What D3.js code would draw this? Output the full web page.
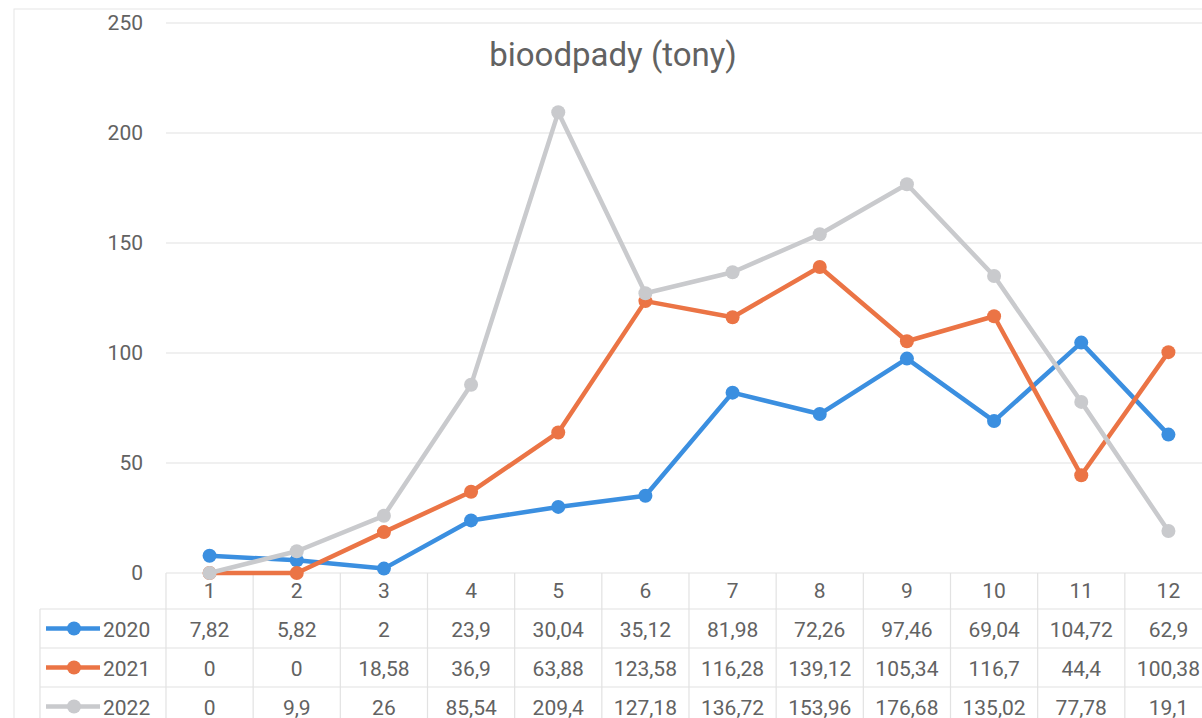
<!DOCTYPE html>
<meta charset="utf-8">
<style>
body { margin: 0; background: #fff; }
text { font-family: Roboto, "Liberation Sans", sans-serif; fill: #626262; }
</style>
<body>
<script src="https://cdn.jsdelivr.net/npm/d3@7"></script>
<script>

var months = ["1", "2", "3", "4", "5", "6", "7", "8", "9", "10", "11", "12"];
var years = ["2020", "2021", "2022"];
var vals2020 = [7.82, 5.82, 2, 23.9, 30.04, 35.12, 81.98, 72.26, 97.46, 69.04, 104.72, 62.9];
var vals2021 = [0, 0, 18.58, 36.9, 63.88, 123.58, 116.28, 139.12, 105.34, 116.7, 44.4, 100.38];
var vals2022 = [0, 9.9, 26, 85.54, 209.4, 127.18, 136.72, 153.96, 176.68, 135.02, 77.78, 19.1];
var yTicks = [0, 50, 100, 150, 200, 250];
var colors = ["#3b8fe0", "#eb7445", "#c9cacd"];
var title = "bioodpady (tony)";

var W = 1202, H = 718;
var plot = {left: 166, right: 1212, top: 23, bottom: 573};
var rowY = [609, 648, 687, 726]; // table row lines

var series = years.map(function(y, i) {
  return {year: y, values: [vals2020, vals2021, vals2022][i], color: colors[i]};
});

var x = d3.scaleBand().domain(months).range([plot.left, plot.right]);
var y = d3.scaleLinear().domain([0, 250]).range([plot.bottom, plot.top]);
var cx = function(m) { return x(m) + x.bandwidth() / 2; };

var svg = d3.select("body").append("svg")
    .attr("width", W)
    .attr("height", H);

// faint outer border of the chart
svg.append("rect")
    .attr("x", 14).attr("y", 9)
    .attr("width", W).attr("height", H)
    .attr("fill", "none")
    .attr("stroke", "#e6e6e6");

// gridlines
svg.append("g").selectAll("line")
    .data(yTicks)
  .enter().append("line")
    .attr("x1", plot.left).attr("x2", W)
    .attr("y1", function(d) { return y(d); })
    .attr("y2", function(d) { return y(d); })
    .attr("stroke", "#e2e2e2")
    .attr("stroke-width", 1.2);

// y axis labels
svg.append("g").selectAll("text")
    .data(yTicks)
  .enter().append("text")
    .attr("x", 143)
    .attr("y", function(d) { return y(d) + 7; })
    .attr("text-anchor", "end")
    .attr("font-size", "21px")
    .text(function(d) { return d; });

// title
svg.append("text")
    .attr("x", 613).attr("y", 66)
    .attr("text-anchor", "middle")
    .attr("font-size", "33px")
    .text(title);

// data table grid
var tbl = svg.append("g").attr("stroke", "#e2e2e2").attr("stroke-width", 1.2);
tbl.selectAll("line.h")
    .data(rowY.slice(0, 3))
  .enter().append("line")
    .attr("x1", 40).attr("x2", W)
    .attr("y1", function(d) { return d; })
    .attr("y2", function(d) { return d; });
tbl.selectAll("line.v")
    .data(months)
  .enter().append("line")
    .attr("x1", function(m) { return x(m); })
    .attr("x2", function(m) { return x(m); })
    .attr("y1", plot.bottom)
    .attr("y2", H);
tbl.append("line")
    .attr("x1", 40).attr("x2", 40)
    .attr("y1", rowY[0]).attr("y2", H);

// category labels
svg.append("g").selectAll("text")
    .data(months)
  .enter().append("text")
    .attr("x", cx)
    .attr("y", 598)
    .attr("text-anchor", "middle")
    .attr("font-size", "21px")
    .text(function(d) { return d; });

// lines and markers
var line = d3.line()
    .x(function(d, i) { return cx(months[i]); })
    .y(function(d) { return y(d); });

series.forEach(function(s) {
  svg.append("path")
      .datum(s.values)
      .attr("d", line)
      .attr("fill", "none")
      .attr("stroke", s.color)
      .attr("stroke-width", 4.5)
      .attr("stroke-linejoin", "round");
  svg.append("g").selectAll("circle")
      .data(s.values)
    .enter().append("circle")
      .attr("cx", function(d, i) { return cx(months[i]); })
      .attr("cy", function(d) { return y(d); })
      .attr("r", 7)
      .attr("fill", s.color);
});

// table rows: legend key, year, values
series.forEach(function(s, r) {
  var yc = (rowY[r] + rowY[r + 1]) / 2;
  var g = svg.append("g");
  g.append("line")
      .attr("x1", 46).attr("x2", 100)
      .attr("y1", yc).attr("y2", yc)
      .attr("stroke", s.color)
      .attr("stroke-width", 4.5);
  g.append("circle")
      .attr("cx", 74).attr("cy", yc).attr("r", 7)
      .attr("fill", s.color);
  g.append("text")
      .attr("x", 103).attr("y", yc + 8)
      .attr("font-size", "21px")
      .text(s.year);
  g.selectAll("text.v")
      .data(s.values)
    .enter().append("text")
      .attr("x", function(d, i) { return cx(months[i]); })
      .attr("y", yc + 8)
      .attr("text-anchor", "middle")
      .attr("font-size", "21px")
      .text(function(d) { return String(d).replace(".", ","); });
});

</script>
</body>
